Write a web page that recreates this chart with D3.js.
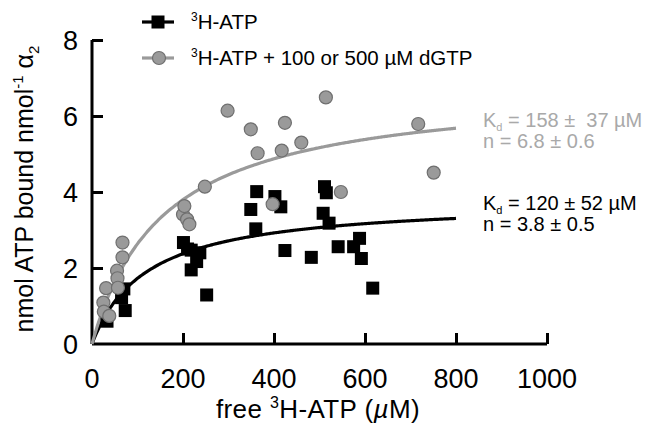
<!DOCTYPE html>
<html>
<head>
<meta charset="utf-8">
<script src="https://cdn.jsdelivr.net/npm/d3@7"></script>
<style>
  body { margin: 0; background: #fff; }
  svg { display: block; font-family: "Liberation Sans", Arial, Helvetica, sans-serif; }
  text { white-space: pre; }
</style>
</head>
<body>
<svg id="chart" width="645" height="425"></svg>
<script>
// free 3H-ATP (uM) and bound (nmol ATP / nmol alpha2)
const atpX = [33, 65, 70, 73, 201, 210, 218, 218, 230, 237, 252, 349, 360, 362, 402, 415, 424, 482, 508, 511, 515, 521, 541, 575, 588, 592, 617];
const atpY = [0.6, 1.22, 1.45, 0.88, 2.67, 2.5, 2.47, 1.95, 2.17, 2.40, 1.29, 3.54, 3.03, 4.01, 3.88, 3.61, 2.46, 2.28, 3.44, 4.14, 3.98, 3.18, 2.56, 2.56, 2.78, 2.25, 1.47];

const dgtpX = [25, 26, 31, 38, 55, 56, 57, 67, 67, 200, 203, 209, 214, 248, 298, 349, 364, 397, 417, 424, 460, 514, 547, 717, 751];
const dgtpY = [1.09, 0.85, 1.47, 0.74, 1.93, 1.73, 1.48, 2.67, 2.28, 3.41, 3.63, 3.28, 3.15, 4.14, 6.14, 5.65, 5.02, 3.68, 5.09, 5.82, 5.30, 6.49, 4.0, 5.79, 4.51];

// fitted hyperbola parameters: Kd (uM), n (Bmax)
const fitKd = [120, 158];
const fitN = [3.8, 6.8];
const fitLabels = [
  ["120 ± 52 µM", "n = 3.8 ± 0.5"],
  ["158 ±  37 µM", "n = 6.8 ± 0.6"]
];
const seriesNames = ["H-ATP", "H-ATP + 100 or 500 µM dGTP"];
const xTicks = [0, 200, 400, 600, 800, 1000];
const yTicks = [0, 2, 4, 6, 8];

const GREY = '#9a9a9a';
const GREY_TXT = '#a9a9a9';

const svg = d3.select('#chart');

const x = d3.scaleLinear().domain([0, 1000]).range([92, 547]);
const y = d3.scaleLinear().domain([0, 8]).range([344, 40]);

// axes
const xAxis = svg.append('g')
  .attr('transform', `translate(0,${y(0)})`)
  .call(d3.axisTop(x).tickValues(xTicks.slice(1)).tickSize(11).tickFormat('').tickSizeOuter(0));
const yAxis = svg.append('g')
  .attr('transform', `translate(${x(0)},0)`)
  .call(d3.axisRight(y).tickValues(yTicks.slice(1)).tickSize(11).tickFormat('').tickSizeOuter(0));

[xAxis, yAxis].forEach(a => {
  a.selectAll('path, line').attr('stroke', '#000').attr('stroke-width', 3);
});
xAxis.select('path').attr('d', `M${x(0)},0H${x(1000)}`);
yAxis.select('path').attr('d', `M0,${y(0)}V${y(8)}`);

// tick labels
svg.append('g').selectAll('text')
  .data(xTicks)
  .join('text')
  .attr('x', d => x(d))
  .attr('y', 388)
  .attr('text-anchor', 'middle')
  .attr('font-size', 27)
  .text(d => d);

svg.append('g').selectAll('text')
  .data(yTicks)
  .join('text')
  .attr('x', 78)
  .attr('y', d => y(d) + 10)
  .attr('text-anchor', 'end')
  .attr('font-size', 27)
  .text(d => d);

// axis titles
const xt = svg.append('text')
  .attr('x', 318)
  .attr('y', 418)
  .attr('text-anchor', 'middle')
  .attr('font-size', 26)
  .attr('letter-spacing', 0.4);
xt.append('tspan').text('free ');
xt.append('tspan').attr('font-size', 16).attr('dy', -10).text('3');
xt.append('tspan').attr('dy', 10).text('H-ATP (');
xt.append('tspan').attr('font-style', 'italic').text('µ');
xt.append('tspan').text('M)');

const yt = svg.append('text')
  .attr('transform', 'translate(33,189) rotate(-90)')
  .attr('text-anchor', 'middle')
  .attr('font-size', 25);
yt.append('tspan').text('nmol ATP bound nmol');
yt.append('tspan').attr('font-size', 15).attr('dy', -10).text('-1');
yt.append('tspan').attr('dy', 10).text(' α');
yt.append('tspan').attr('font-size', 15).attr('dy', 6).text('2');

// fit curves
const curveColors = ['#000', GREY];
const xs = d3.range(0, 801, 5);
fitKd.forEach((kd, i) => {
  const line = d3.line()
    .x(d => x(d))
    .y(d => y(fitN[i] * d / (kd + d)))
    .curve(d3.curveMonotoneX);
  svg.append('path')
    .datum(xs)
    .attr('d', line)
    .attr('fill', 'none')
    .attr('stroke', curveColors[i])
    .attr('stroke-width', 3.2);
});

// points
const sq = 13;
svg.append('g').selectAll('rect')
  .data(atpX.map((v, i) => [v, atpY[i]]))
  .join('rect')
  .attr('x', d => x(d[0]) - sq / 2)
  .attr('y', d => y(d[1]) - sq / 2)
  .attr('width', sq)
  .attr('height', sq)
  .attr('fill', '#000');

svg.append('g').selectAll('circle')
  .data(dgtpX.map((v, i) => [v, dgtpY[i]]))
  .join('circle')
  .attr('cx', d => x(d[0]))
  .attr('cy', d => y(d[1]))
  .attr('r', 6.5)
  .attr('fill', GREY)
  .attr('stroke', '#6f6f6f')
  .attr('stroke-width', 1.2);

// fit annotations
const annY = [210, 127];
const annColors = ['#000', GREY_TXT];
fitLabels.forEach((lbl, i) => {
  const g = svg.append('g').attr('fill', annColors[i]).attr('font-size', 20);
  const t = g.append('text').attr('x', 483).attr('y', annY[i]);
  t.append('tspan').text('K');
  t.append('tspan').attr('font-size', 11).attr('dy', 4).text('d');
  t.append('tspan').attr('dy', -4).text(' = ' + lbl[0]);
  g.append('text').attr('x', 483).attr('y', annY[i] + 21).text(lbl[1]);
});

// legend
const legY = [22, 58];
seriesNames.forEach((name, i) => {
  const g = svg.append('g');
  g.append('line')
    .attr('x1', 142).attr('x2', 174)
    .attr('y1', legY[i]).attr('y2', legY[i])
    .attr('stroke', curveColors[i])
    .attr('stroke-width', 3.2);
  if (i === 0) {
    g.append('rect')
      .attr('x', 158 - sq / 2).attr('y', legY[i] - sq / 2)
      .attr('width', sq).attr('height', sq)
      .attr('fill', '#000');
  } else {
    g.append('circle')
      .attr('cx', 159).attr('cy', legY[i]).attr('r', 6.5)
      .attr('fill', GREY).attr('stroke', '#6f6f6f').attr('stroke-width', 1.2);
  }
  const t = g.append('text').attr('x', 191).attr('y', legY[i] + 7).attr('font-size', 20.5);
  t.append('tspan').attr('font-size', 12).attr('dy', -8).text('3');
  t.append('tspan').attr('dy', 8).text(name);
});
</script>
</body>
</html>
